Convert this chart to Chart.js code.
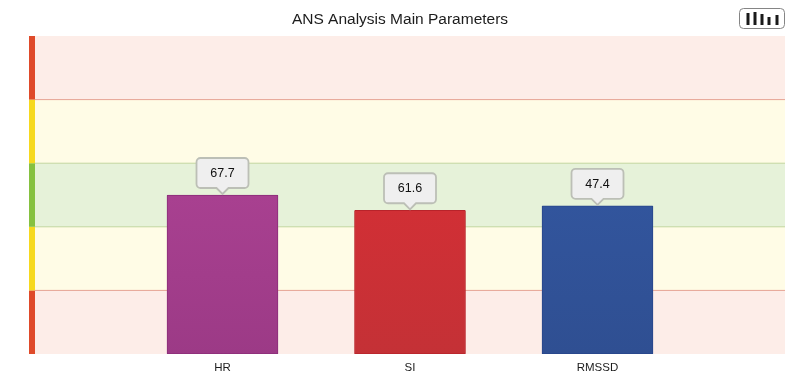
<!DOCTYPE html>
<html>
<head>
<meta charset="utf-8">
<title>ANS Analysis Main Parameters</title>
<script src="https://cdn.jsdelivr.net/npm/chart.js@4"></script>
<style>
  html, body { margin: 0; padding: 0; background: #fff; overflow: hidden; }
  #wrap { position: relative; width: 800px; height: 380px; }
  #icon { position: absolute; left: 739px; top: 8px; }
</style>
</head>
<body>
<div id="wrap">
  <canvas id="chart" width="800" height="380"></canvas>
  <svg id="icon" width="47" height="22">
    <rect x="0.5" y="0.5" width="45" height="20" rx="4" fill="#fff" stroke="#858585" stroke-width="1"/>
    <g fill="#1a1a1a">
      <rect x="7.5" y="5" width="3" height="12"/>
      <rect x="14.5" y="4" width="3" height="13"/>
      <rect x="21.5" y="6" width="3" height="11"/>
      <rect x="28.5" y="9" width="3" height="8"/>
      <rect x="36.5" y="7" width="3" height="10"/>
    </g>
  </svg>
</div>
<script>
// blank first and last slots keep the bars where the original has them
let categories = ['', 'HR', 'SI', 'RMSSD', ''];
// bar height in zones, the app normalises each parameter so it doesn't follow the label
let barHeights = [null, 2.5, 2.26, 2.33, null];
let barLabels = [null, '67.7', '61.6', '47.4', null];

let barTop = [null, '#a84090', '#d22f35', '#32559d', null];
let barBottom = [null, '#9c3a86', '#c43136', '#2f4f92', null];
let barBorder = [null, '#8a2c78', '#b8232a', '#27458a', null];

// zones from bottom to top
let zoneEdges = [0, 1, 2, 3, 4, 5];
let zoneFill = ['#fdede8', '#fffce6', '#e6f2d9', '#fffce6', '#fdede8'];
let zoneStrip = ['#df4a2a', '#f6d91f', '#86c140', '#f6d91f', '#df4a2a'];
let zoneLine = [null, '#e6a394', '#c2d69e', '#c2d69e', '#e6a394'];

const zonesPlugin = {
    id: 'zones',
    beforeDatasetsDraw(chart) {
        const { ctx, chartArea, scales } = chart;
        zoneFill.forEach((fill, i) => {
            let bottom = scales.y.getPixelForValue(zoneEdges[i]);
            let top = scales.y.getPixelForValue(zoneEdges[i + 1]);
            ctx.fillStyle = fill;
            ctx.fillRect(chartArea.left, top, chartArea.width, bottom - top);
            ctx.fillStyle = zoneStrip[i];
            ctx.fillRect(chartArea.left - 6, top, 6, bottom - top);
            if (zoneLine[i]) {
                ctx.fillStyle = zoneLine[i];
                ctx.fillRect(chartArea.left, bottom - 0.5, chartArea.width, 1);
            }
        });
    }
};

const calloutPlugin = {
    id: 'callouts',
    afterDatasetsDraw(chart) {
        const { ctx } = chart;
        chart.getDatasetMeta(0).data.forEach((bar, i) => {
            if (!barLabels[i]) return;
            let w = 52, h = 30, tip = 5;
            let x = bar.x, tipY = bar.y - 1;
            let bottom = tipY - tip - 1, left = x - w / 2, top = bottom - h;

            ctx.beginPath();
            ctx.moveTo(x, tipY);
            ctx.lineTo(x + tip + 1, bottom);
            ctx.arcTo(left + w, bottom, left + w, top, 4);
            ctx.arcTo(left + w, top, left, top, 4);
            ctx.arcTo(left, top, left, bottom, 4);
            ctx.arcTo(left, bottom, x - tip - 1, bottom, 4);
            ctx.lineTo(x - tip - 1, bottom);
            ctx.closePath();
            ctx.fillStyle = '#efefef';
            ctx.fill();
            ctx.lineWidth = 1.8;
            ctx.strokeStyle = '#bcbfb6';
            ctx.stroke();

            ctx.fillStyle = '#111';
            ctx.font = '12.5px "Liberation Sans"';
            ctx.textAlign = 'center';
            ctx.textBaseline = 'middle';
            ctx.fillText(barLabels[i], x, top + h / 2 + 0.5);
        });
    }
};

const chart = new Chart(document.querySelector('#chart'), {
    type: 'bar',
    data: {
        labels: categories,
        datasets: [{
            data: barHeights,
            barThickness: 111,
            borderWidth: 1,
            borderRadius: 1,
            borderSkipped: false,
            borderColor: barBorder,
            backgroundColor(c) {
                let area = c.chart.chartArea;
                if (!area || !barTop[c.dataIndex]) return 'transparent';
                let g = c.chart.ctx.createLinearGradient(0, area.top + 160, 0, area.bottom);
                g.addColorStop(0, barTop[c.dataIndex]);
                g.addColorStop(1, barBottom[c.dataIndex]);
                return g;
            }
        }]
    },
    options: {
        responsive: false,
        animation: false,
        layout: { padding: { left: 15, right: 15, top: 0, bottom: 0 } },
        plugins: {
            legend: { display: false },
            tooltip: { enabled: false },
            title: {
                display: true,
                text: 'ANS Analysis Main Parameters',
                color: '#1c1c1c',
                font: { family: '"Liberation Sans"', size: 15.5, weight: 'normal' },
                padding: { top: 10, bottom: 7.4 }
            }
        },
        scales: {
            x: {
                offset: false,
                afterFit(s) { s.height = 26; },
                grid: { display: false },
                border: { display: false },
                ticks: {
                    color: '#1c1c1c',
                    padding: -1,
                    maxRotation: 0,
                    autoSkip: false,
                    font: { family: '"Liberation Sans"', size: 11.5 }
                }
            },
            y: {
                min: zoneEdges[0],
                max: zoneEdges[zoneEdges.length - 1],
                afterFit(s) { s.width = 20; },
                grid: { display: false },
                border: { display: false },
                ticks: { display: false }
            }
        }
    },
    plugins: [zonesPlugin, calloutPlugin]
});
</script>
</body>
</html>
